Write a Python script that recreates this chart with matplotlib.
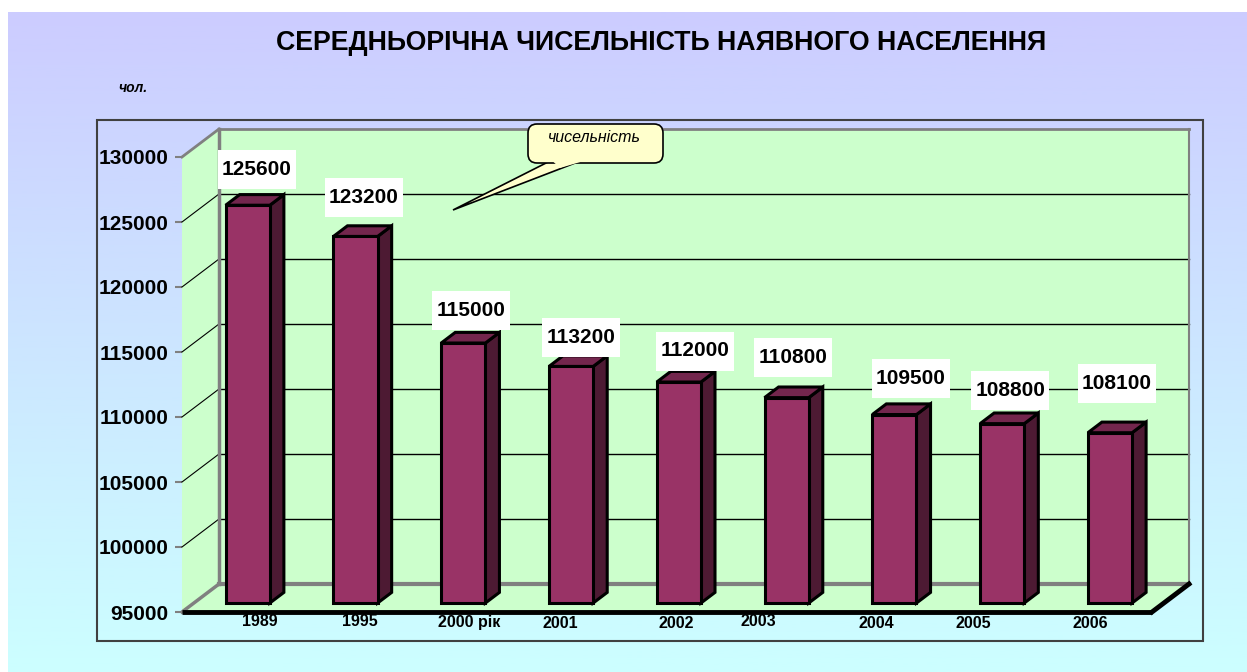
import numpy as np
import matplotlib
matplotlib.use("Agg")
import matplotlib.pyplot as plt
from matplotlib.patches import Polygon, Rectangle, FancyBboxPatch
from matplotlib.transforms import ScaledTranslation, IdentityTransform

plt.rcParams['font.family'] = ['Liberation Sans', 'DejaVu Sans']

# ── data ──
YEARS = ["1989", "1995", "2000 рік", "2001", "2002", "2003", "2004", "2005", "2006"]
POPULATION = [125600, 123200, 115000, 113200, 112000, 110800, 109500, 108800, 108100]
Y_TICKS = [95000, 100000, 105000, 110000, 115000, 120000, 125000, 130000]
TITLE = "СЕРЕДНЬОРІЧНА ЧИСЕЛЬНІСТЬ НАЯВНОГО НАСЕЛЕННЯ"
UNIT = "чол."
CALLOUT = "чисельність"

# label placement (pixel offsets from the front-plane point of each bar)
VAL_OFFS = [(21, 45), (20, 48), (20, 42), (22, 38), (28, 40), (18, 49), (28, 45), (20, 42), (19, 58)]
XLAB_OFFS = [(24, -9), (16, -10), (18, -10), (1, -11), (9, -11), (-16, -9), (-6, -11), (-17, -11), (-8, -11)]

W, H, DPI = 1247, 672, 100
DEPTH = np.array([37.0, 28.0])        # display px (right, up) for full depth
BAR_D0, BAR_D1 = 0.32, 0.70
FRONT, SIDE, TOP = "#993366", "#4D1A33", "#73264D"
WALL = "#CCFFCC"
GREY = "#808080"

fig = plt.figure(figsize=(W / DPI, H / DPI), dpi=DPI)
fig.patch.set_facecolor("white")

# ── background / decor in pixel coords ──
bg = fig.add_axes([0, 0, 1, 1])
bg.set_xlim(0, W)
bg.set_ylim(H, 0)
bg.axis("off")
grad = np.linspace(0, 1, 256)[:, None]
c_top = np.array([204, 204, 255]) / 255.
c_bot = np.array([204, 255, 255]) / 255.
img = c_top[None, None, :] * (1 - grad[..., None]) + c_bot[None, None, :] * grad[..., None]
bg.imshow(img, extent=[8, W, H, 12], aspect="auto", zorder=0)
bg.add_patch(Rectangle((97, 120), 1106, 521, fill=False, ec="#404040", lw=1.5, zorder=1))
bg.text(661, 43, TITLE, ha="center", va="center", fontsize=19.3, fontweight="bold")
bg.text(133, 88, UNIT, ha="center", va="center", fontsize=10, fontweight="bold", style="italic")

# ── main axes = front plane of the 3D box ──
ax = fig.add_axes([182 / W, 60 / H, 970 / W, 455 / H])
ax.set_xlim(-0.5, len(YEARS) - 0.5)
ax.set_ylim(Y_TICKS[0], Y_TICKS[-1])
ax.patch.set_visible(False)
for s in ax.spines.values():
    s.set_visible(False)
ax.set_xticks([])
ax.set_yticks(Y_TICKS)
ax.set_yticklabels([str(v) for v in Y_TICKS], fontsize=15, fontweight="bold")
ax.tick_params(axis="y", length=5, width=1.5, color=GREY, pad=5)

x0, x1 = ax.get_xlim()
y0, y1 = ax.get_ylim()


def P(x, y, d=0.0):
    return ax.transData.transform((x, y)) + d * DEPTH


def poly(pts, **kw):
    p = Polygon(np.array(pts), closed=True, transform=IdentityTransform(), clip_on=False, **kw)
    ax.add_patch(p)


def line(a, b, **kw):
    ax.add_line(plt.Line2D([a[0], b[0]], [a[1], b[1]], transform=IdentityTransform(),
                           clip_on=False, **kw))


# walls
poly([P(x0, y0, 1), P(x1, y0, 1), P(x1, y1, 1), P(x0, y1, 1)], fc=WALL, ec="none", zorder=1)
poly([P(x0, y0, 0), P(x0, y0, 1), P(x0, y1, 1), P(x0, y1, 0)], fc=WALL, ec="none", zorder=1)
poly([P(x0, y0, 0), P(x1, y0, 0), P(x1, y0, 1), P(x0, y0, 1)], fc=WALL, ec="none", zorder=1)

for v in Y_TICKS[1:-1]:
    line(P(x0, v, 1), P(x1, v, 1), color="black", lw=1.0, zorder=2)
    line(P(x0, v, 0), P(x0, v, 1), color="black", lw=0.8, zorder=2)
line(P(x0, y1, 1), P(x1, y1, 1), color=GREY, lw=2.0, zorder=2)
line(P(x0, y1, 0), P(x0, y1, 1), color=GREY, lw=2.0, zorder=2)
line(P(x0, y0, 0), P(x0, y0, 1), color=GREY, lw=2.5, zorder=2)
line(P(x0, y0, 1), P(x0, y1, 1), color=GREY, lw=2.5, zorder=2)
line(P(x1, y0, 1), P(x1, y1, 1), color=GREY, lw=1.5, zorder=2)
line(P(x0, y0, 1), P(x1, y0, 1), color=GREY, lw=3.0, zorder=2)
line(P(x0, y0, 0), P(x1, y0, 0), color="black", lw=3.5, zorder=2, solid_capstyle="butt")
line(P(x1, y0, 0), P(x1, y0, 1), color="black", lw=3.5, zorder=2)

# bars
xs = np.arange(len(YEARS))
bw = 0.41
vals = np.array(POPULATION) - y0
bars = ax.bar(xs, vals, bottom=y0, width=bw, color=FRONT, edgecolor="black", linewidth=2.2, zorder=5)
shift = ScaledTranslation(BAR_D0 * DEPTH[0] / DPI, BAR_D0 * DEPTH[1] / DPI, fig.dpi_scale_trans)
for b in bars:
    b.set_transform(ax.transData + shift)
    b.set_clip_on(False)
for x, v in zip(xs, POPULATION):
    l, r = x - bw / 2, x + bw / 2
    poly([P(r, y0, BAR_D0), P(r, y0, BAR_D1), P(r, v, BAR_D1), P(r, v, BAR_D0)],
         fc=SIDE, ec="black", lw=2.2, joinstyle="miter", zorder=4)
    poly([P(l, v, BAR_D0), P(r, v, BAR_D0), P(r, v, BAR_D1), P(l, v, BAR_D1)],
         fc=TOP, ec="black", lw=2.2, joinstyle="miter", zorder=4)

# value labels in white boxes (78 x 39 px)
for x, v, off in zip(xs, POPULATION, VAL_OFFS):
    cx, cy = P(x, v) + np.array(off)
    ax.add_patch(Rectangle((cx - 39, cy - 19.5), 78, 39, fc="white", ec="none",
                           transform=IdentityTransform(), clip_on=False, zorder=7))
    ax.annotate(str(v), xy=(x, v), xytext=off, textcoords="offset pixels",
                ha="center", va="center", fontsize=15, fontweight="bold", zorder=8,
                annotation_clip=False)

# category labels
for x, lab, off in zip(xs, YEARS, XLAB_OFFS):
    ax.annotate(lab, xy=(x, y0), xytext=off, textcoords="offset pixels",
                ha="center", va="center", fontsize=11.5, fontweight="bold",
                annotation_clip=False, zorder=8)

# callout bubble (overlay axes in pixel coords)
ov = fig.add_axes([0, 0, 1, 1])
ov.set_xlim(0, W)
ov.set_ylim(H, 0)
ov.axis("off")
ov.add_patch(Polygon([[552, 160], [583, 160], [453, 210]], closed=True,
                     fc="#FFFFCC", ec="black", lw=1.2, zorder=9))
ov.add_patch(FancyBboxPatch((528, 124), 135, 39, boxstyle="round,pad=0,rounding_size=9",
                            fc="#FFFFCC", ec="black", lw=1.2, zorder=10))
ov.add_patch(Polygon([[553, 161.5], [582, 161.5], [560, 168]], closed=True,
                     fc="#FFFFCC", ec="none", zorder=11))
ov.text(594, 137, CALLOUT, ha="center", va="center", fontsize=11.5, style="italic", zorder=12)

fig.savefig("out.png", dpi=DPI)
